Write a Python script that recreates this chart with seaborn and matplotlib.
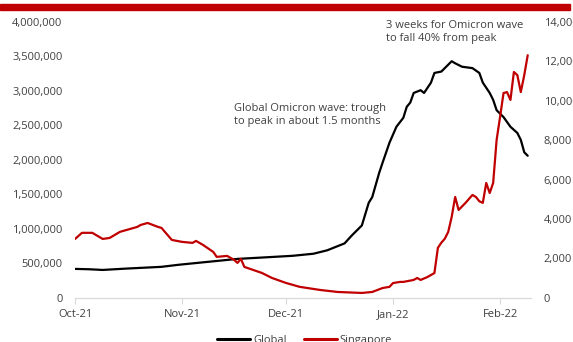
import matplotlib
matplotlib.use("Agg")
import matplotlib.pyplot as plt
from matplotlib.lines import Line2D
from matplotlib.patches import Rectangle
from matplotlib.ticker import FuncFormatter
import pandas as pd
import seaborn as sns

# Global daily new cases (7-day average), left axis
global_dates = [
    "2021-10-01", "2021-10-05", "2021-10-09", "2021-10-16", "2021-10-26", "2021-10-31",
    "2021-11-04", "2021-11-11", "2021-11-17", "2021-11-26", "2021-12-03", "2021-12-09",
    "2021-12-13", "2021-12-16", "2021-12-18", "2021-12-20", "2021-12-23", "2021-12-25",
    "2021-12-26", "2021-12-28", "2021-12-29", "2021-12-31", "2022-01-02", "2022-01-04",
    "2022-01-05", "2022-01-06", "2022-01-07", "2022-01-09", "2022-01-10", "2022-01-12",
    "2022-01-13", "2022-01-15", "2022-01-16", "2022-01-18", "2022-01-19", "2022-01-21",
    "2022-01-24", "2022-01-26", "2022-01-27", "2022-01-29", "2022-01-30", "2022-01-31",
    "2022-02-02", "2022-02-04", "2022-02-06", "2022-02-07", "2022-02-08", "2022-02-09",
]
global_cases = [
    420000, 415000, 405000, 425000, 450000, 480000,
    500000, 535000, 565000, 590000, 610000, 640000,
    690000, 750000, 790000, 900000, 1050000, 1380000,
    1460000, 1810000, 1960000, 2250000, 2480000, 2610000,
    2770000, 2830000, 2970000, 3010000, 2970000, 3120000,
    3260000, 3280000, 3330000, 3430000, 3400000, 3350000,
    3330000, 3260000, 3120000, 2970000, 2870000, 2720000,
    2620000, 2480000, 2390000, 2290000, 2110000, 2060000,
]

# Singapore daily new cases (7-day average), right axis
sg_dates = [
    "2021-10-01", "2021-10-03", "2021-10-06", "2021-10-09", "2021-10-11", "2021-10-14",
    "2021-10-18", "2021-10-19", "2021-10-20", "2021-10-22", "2021-10-25", "2021-10-26",
    "2021-10-29", "2021-11-01", "2021-11-04", "2021-11-05", "2021-11-07", "2021-11-10",
    "2021-11-11", "2021-11-14", "2021-11-16", "2021-11-17", "2021-11-18", "2021-11-19",
    "2021-11-24", "2021-11-27", "2021-12-01", "2021-12-05", "2021-12-11", "2021-12-16",
    "2021-12-23", "2021-12-26", "2021-12-29", "2021-12-31", "2022-01-01", "2022-01-03",
    "2022-01-04", "2022-01-07", "2022-01-08", "2022-01-09", "2022-01-11", "2022-01-13",
    "2022-01-14", "2022-01-15", "2022-01-16", "2022-01-17", "2022-01-18", "2022-01-19",
    "2022-01-20", "2022-01-22", "2022-01-24", "2022-01-25", "2022-01-26", "2022-01-27",
    "2022-01-28", "2022-01-29", "2022-01-30", "2022-01-31", "2022-02-01", "2022-02-02",
    "2022-02-03", "2022-02-04", "2022-02-05", "2022-02-06", "2022-02-07", "2022-02-08",
    "2022-02-09",
]
sg_cases = [
    2990, 3300, 3300, 2990, 3040, 3350,
    3550, 3600, 3700, 3800, 3600, 3550,
    2940, 2840, 2790, 2890, 2690, 2330,
    2080, 2130, 1930, 1775, 1980, 1570,
    1270, 1010, 760, 560, 400, 300,
    250, 300, 500, 560, 750, 810,
    810, 910, 1010, 910, 1060, 1260,
    2540, 2800, 3000, 3350, 4110, 5120,
    4460, 4820, 5220, 5120, 4900, 4820,
    5830, 5320, 5830, 8010, 9180, 10390,
    10440, 10040, 11460, 11300, 10440, 11300,
    12310,
]

month_ticks = ["2021-10-01", "2021-11-01", "2021-12-01", "2022-01-01", "2022-02-01"]
month_labels = ["Oct-21", "Nov-21", "Dec-21", "Jan-22", "Feb-22"]

left_ticks = [0, 500000, 1000000, 1500000, 2000000, 2500000, 3000000, 3500000, 4000000]
right_ticks = [0, 2000, 4000, 6000, 8000, 10000, 12000, 14000]

BLACK = "#000000"
RED = "#C00000"
TEXT = "#404040"

sns.set_theme(style="white")
plt.rcParams["font.family"] = ["Open Sans", "DejaVu Sans"]

df_global = pd.DataFrame({"date": pd.to_datetime(global_dates), "cases": global_cases})
df_sg = pd.DataFrame({"date": pd.to_datetime(sg_dates), "cases": sg_cases})

fig = plt.figure(figsize=(5.73, 3.42), dpi=100)
ax = fig.add_axes([0.131, 0.129, 0.796, 0.807])
ax2 = ax.twinx()

sns.lineplot(data=df_global, x="date", y="cases", ax=ax, color=BLACK, linewidth=1.6)
sns.lineplot(data=df_sg, x="date", y="cases", ax=ax2, color=RED, linewidth=1.6)

ax.set_xlim(pd.Timestamp("2021-10-01"), pd.Timestamp("2022-02-10"))
ax.set_ylim(0, 4000000)
ax2.set_ylim(0, 14000)

ax.set_xticks(pd.to_datetime(month_ticks))
ax.set_xticklabels(month_labels)
ax.set_yticks(left_ticks)
ax2.set_yticks(right_ticks)
fmt = FuncFormatter(lambda v, _: f"{int(v):,}")
ax.yaxis.set_major_formatter(fmt)
ax2.yaxis.set_major_formatter(fmt)

for a in (ax, ax2):
    a.set_xlabel("")
    a.set_ylabel("")
    for side in ("top", "left", "right"):
        a.spines[side].set_visible(False)
    a.spines["bottom"].set_color("#d9d9d9")
    a.spines["bottom"].set_linewidth(0.8)
    a.grid(False)

ax.tick_params(axis="x", which="major", bottom=True, length=4, width=0.8,
               color="#d9d9d9", labelsize=8, labelcolor=TEXT, pad=4)
ax.tick_params(axis="y", left=False, length=0, labelsize=8, labelcolor=TEXT, pad=9)
ax2.tick_params(axis="y", right=False, length=0, labelsize=8, labelcolor=TEXT, pad=9)

ax.text(pd.Timestamp("2021-11-16"), 2830000,
        "Global Omicron wave: trough\nto peak in about 1.5 months",
        fontsize=8, color=TEXT, ha="left", va="top", linespacing=1.25)
ax.text(pd.Timestamp("2021-12-30"), 4030000,
        "3 weeks for Omicron wave\nto fall 40% from peak",
        fontsize=8, color=TEXT, ha="left", va="top", linespacing=1.25)

# header rule
fig.patches.append(Rectangle((0, 1 - 10 / 342), 0.995, 6 / 342, transform=fig.transFigure,
                             color=RED, zorder=5))

handles = [Line2D([0], [0], color=BLACK, lw=2.2), Line2D([0], [0], color=RED, lw=2.2)]
fig.legend(handles, ["Global", "Singapore"], loc="center", bbox_to_anchor=(0.532, 0.005),
           ncol=2, frameon=False, fontsize=8, labelcolor=TEXT, handlelength=2.9,
           handletextpad=0.3, columnspacing=1.6)

fig.savefig("out.png", dpi=100)
